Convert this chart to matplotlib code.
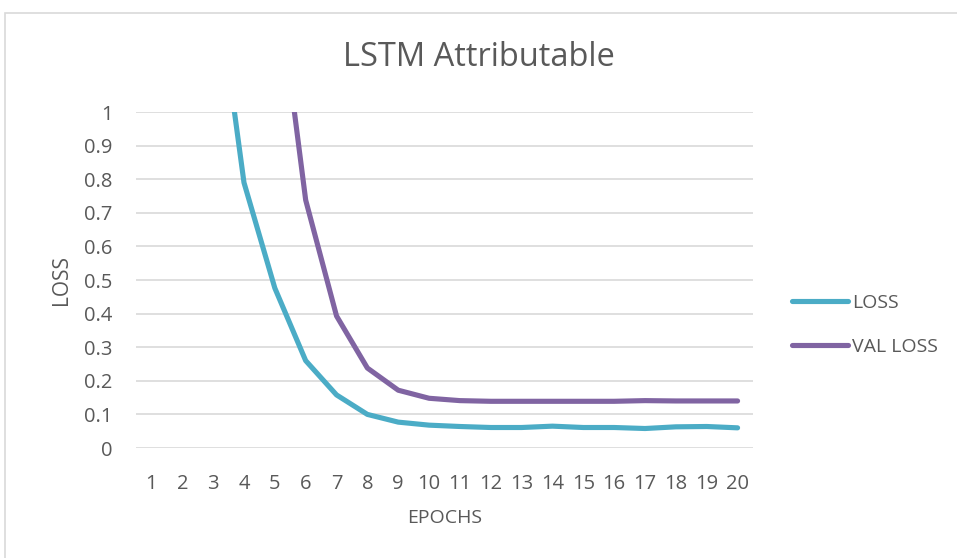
import matplotlib.pyplot as plt
from matplotlib.patches import Rectangle

epochs = list(range(1, 21))
loss = [2.6, 1.9, 1.47, 0.79, 0.476, 0.26, 0.158, 0.10, 0.077, 0.068,
        0.064, 0.061, 0.061, 0.065, 0.061, 0.061, 0.058, 0.063, 0.064, 0.060]
val_loss = [3.4, 2.7, 2.1, 1.75, 1.455, 0.738, 0.393, 0.238, 0.172, 0.148,
            0.141, 0.139, 0.139, 0.139, 0.139, 0.139, 0.141, 0.140, 0.140, 0.140]
y_ticks = [i / 10 for i in range(11)]
y_labels = ["0"] + [f"{t:g}" for t in y_ticks[1:]]

txt = "#595959"
plt.rcParams['font.family'] = ['Open Sans', 'DejaVu Sans']

fig = plt.figure(figsize=(9.57, 5.58), dpi=100)
# light chart-area frame, running off the right and bottom edges
fig.patches.append(Rectangle((5 / 957, -0.1), 1.1, 1 - 13 / 558 + 0.1,
                             transform=fig.transFigure, fill=False,
                             edgecolor="#D9D9D9", linewidth=1.2))

ax = fig.add_axes([136 / 957, 1 - 448 / 558, 617 / 957, 336 / 558])
ax.plot(epochs, loss, color="#4BACC6", lw=3.7, label="LOSS", solid_capstyle="round")
ax.plot(epochs, val_loss, color="#8064A2", lw=3.7, label="VAL LOSS", solid_capstyle="round")

ax.set_xlim(0.5, 20.5)
ax.set_ylim(0, 1)
ax.set_xticks(epochs)
ax.set_xticklabels([str(e) for e in epochs])
ax.set_yticks(y_ticks)
ax.set_yticklabels(y_labels)
ax.tick_params(length=0, labelsize=14.5, labelcolor=txt)
ax.tick_params(axis="x", pad=19)
ax.tick_params(axis="y", pad=17)
ax.grid(axis="y", color="#D9D9D9", lw=1.2)
ax.set_axisbelow(True)
for s in ax.spines.values():
    s.set_visible(False)

ax.set_xlabel("EPOCHS", fontsize=14, color=txt)
ax.xaxis.set_label_coords(0.5, -(509 - 448) / 336)
ax.set_ylabel("LOSS", fontsize=15, color=txt)
ax.yaxis.set_label_coords(-(136 - 72) / 617, 0.5)
fig.text(0.5, 1 - 58 / 558, "LSTM Attributable", ha="center", va="center",
         fontsize=23.5, color=txt)

ax.legend(loc="center left", bbox_to_anchor=(792 / 957, 1 - 325 / 558),
          bbox_transform=fig.transFigure, frameon=False, borderpad=0,
          borderaxespad=0, fontsize=14, labelcolor=txt, handlelength=2.9,
          handletextpad=0.2, labelspacing=1.32)

fig.savefig("out.png", dpi=100)
